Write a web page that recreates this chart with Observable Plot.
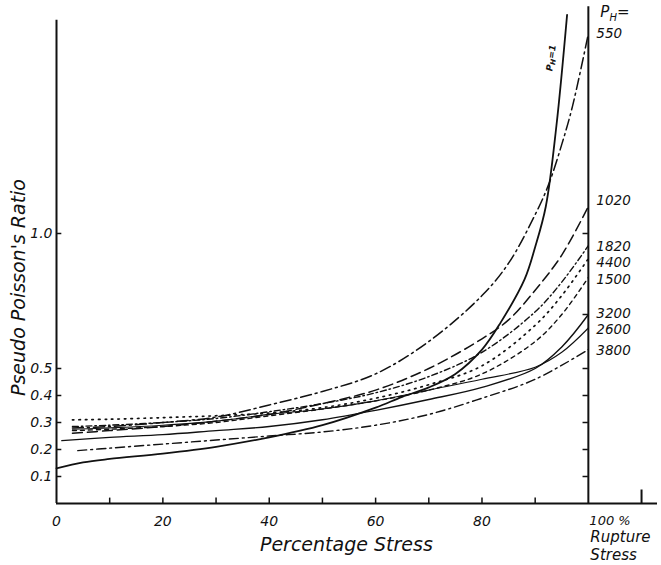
<!DOCTYPE html>
<html><head><meta charset="utf-8">
<script src="https://cdn.jsdelivr.net/npm/d3@7"></script>
<script src="https://cdn.jsdelivr.net/npm/@observablehq/plot@0.6"></script>
<style>body{margin:0;background:#fff}</style>
</head><body><div id="chart"></div>
<script>
// ---- data (percentage stress vs pseudo Poisson's ratio) ----
const ph1_x   = [0, 5, 10, 20, 30, 40, 50, 60, 65, 70, 75, 80, 83.5, 88, 90, 92, 94, 96];
const ph1_y   = [0.13, 0.152, 0.165, 0.185, 0.21, 0.245, 0.29, 0.355, 0.395, 0.43, 0.48, 0.57, 0.67, 0.83, 0.95, 1.10, 1.40, 1.81];
const p550_x  = [3, 10, 20, 30, 40, 50, 60, 70, 80, 85, 90, 92.5, 95, 97, 100];
const p550_y  = [0.28, 0.285, 0.30, 0.32, 0.365, 0.415, 0.48, 0.60, 0.77, 0.89, 1.07, 1.18, 1.33, 1.47, 1.74];
const p1020_x = [3, 10, 20, 30, 40, 50, 60, 70, 80, 85, 90, 95, 100];
const p1020_y = [0.26, 0.27, 0.285, 0.305, 0.33, 0.37, 0.42, 0.50, 0.61, 0.68, 0.79, 0.92, 1.10];
const p1820_x = [3, 10, 20, 30, 40, 50, 60, 70, 80, 90, 95, 100];
const p1820_y = [0.285, 0.29, 0.30, 0.315, 0.34, 0.37, 0.41, 0.47, 0.56, 0.71, 0.82, 0.955];
const p4400_x = [3, 10, 20, 30, 40, 50, 60, 70, 80, 90, 95, 100];
const p4400_y = [0.31, 0.312, 0.318, 0.325, 0.335, 0.355, 0.39, 0.44, 0.51, 0.66, 0.77, 0.907];
const p1500_x = [3, 10, 20, 30, 40, 50, 60, 70, 80, 90, 95, 100];
const p1500_y = [0.27, 0.275, 0.285, 0.30, 0.325, 0.35, 0.38, 0.42, 0.48, 0.60, 0.70, 0.837];
const p3200_x = [1, 10, 20, 30, 40, 50, 60, 70, 80, 90, 95, 100];
const p3200_y = [0.233, 0.245, 0.255, 0.27, 0.285, 0.31, 0.345, 0.385, 0.43, 0.50, 0.58, 0.70];
const p2600_x = [3, 10, 20, 30, 40, 50, 60, 70, 80, 90, 95, 100];
const p2600_y = [0.275, 0.28, 0.29, 0.305, 0.33, 0.35, 0.38, 0.42, 0.46, 0.505, 0.56, 0.65];
const p3800_x = [4, 10, 20, 30, 40, 50, 60, 70, 80, 90, 100];
const p3800_y = [0.196, 0.205, 0.22, 0.235, 0.25, 0.265, 0.29, 0.33, 0.39, 0.46, 0.57];

const seriesNames  = ["1", "550", "1020", "1820", "4400", "1500", "3200", "2600", "3800"];
const seriesX      = [ph1_x, p550_x, p1020_x, p1820_x, p4400_x, p1500_x, p3200_x, p2600_x, p3800_x];
const seriesY      = [ph1_y, p550_y, p1020_y, p1820_y, p4400_y, p1500_y, p3200_y, p2600_y, p3800_y];
const seriesDash   = ["none", "11,4,2,4", "10,5", "6,3,1.5,3", "1.5,5", "4,4", "none", "none", "9,4,2,4"];
const seriesWidth  = [1.8, 1.5, 1.5, 1.4, 1.7, 1.4, 1.4, 1.1, 1.4];

const labelText    = ["550", "1020", "1820", "4400", "1500", "3200", "2600", "3800"];
const labelRatio   = [1.74, 1.122, 0.952, 0.893, 0.83, 0.704, 0.644, 0.567];

const xTicks       = [10, 20, 30, 40, 50, 60, 70, 80, 90];
const xTickLabels  = [0, 20, 40, 60, 80];
const yTicks       = [0.1, 0.2, 0.3, 0.4, 0.5, 1.0];
const yRightTicks  = [0.1, 0.2, 0.3, 0.4, 0.5, 0.7, 1.0];

const F = "'DejaVu Sans', sans-serif";

const lineMarks = seriesNames.map((n, i) =>
  Plot.line(seriesX[i].map((x, j) => ({stress: x, ratio: seriesY[i][j]})), {
    x: "stress", y: "ratio", curve: "catmull-rom",
    stroke: "#111", strokeWidth: seriesWidth[i],
    strokeDasharray: seriesDash[i] === "none" ? null : seriesDash[i],
    strokeLinecap: "round"
  })
);

const chart = Plot.plot({
  width: 661, height: 565,
  marginLeft: 56, marginRight: 4, marginTop: 17, marginBottom: 62,
  x: {domain: [0, 113], axis: null},
  y: {domain: [0, 1.8], axis: null},
  style: {fontFamily: F, fontStyle: "italic", background: "#fff", color: "#111"},
  marks: [
    // frame lines
    Plot.ruleX([0], {y1: 0, y2: 1.79, strokeWidth: 2, stroke: "#111"}),
    Plot.ruleY([0], {x1: 0, x2: 113, strokeWidth: 2, stroke: "#111"}),
    Plot.ruleX([100], {y1: 0, y2: 1.84, strokeWidth: 2, stroke: "#111"}),
    Plot.ruleX([110], {y1: 0, y2: 0.05, strokeWidth: 2, stroke: "#111"}),
    // x ticks
    Plot.ruleX(xTicks, {y1: 0, y2: 0.02, strokeWidth: 1.5, stroke: "#111"}),
    // y ticks (left, pointing in) and right
    Plot.ruleY(yTicks, {x1: 0, x2: 1, strokeWidth: 1.5, stroke: "#111"}),
    Plot.ruleY(yRightTicks, {x1: 99, x2: 100, strokeWidth: 1.5, stroke: "#111"}),
    // tick labels
    Plot.axisY(yTicks, {tickSize: 0, tickPadding: 4, tickFormat: d3.format(".1f"), fontSize: 14, label: null}),
    Plot.text(xTickLabels, {x: d => d, y: 0, dy: 18, text: d => String(d), fontSize: 14}),
    Plot.text([100], {x: d => d, y: 0, dy: 17, dx: 1, text: () => "100 %", textAnchor: "start", fontSize: 13}),
    // axis titles
    Plot.text(["Percentage Stress"], {x: 54.5, y: 0, dy: 41, text: d => d, fontSize: 19}),
    Plot.text(["Rupture"], {x: 100, y: 0, dy: 34, dx: 2, text: d => d, textAnchor: "start", fontSize: 15}),
    Plot.text(["Stress"], {x: 100, y: 0, dy: 52, dx: 2, text: d => d, textAnchor: "start", fontSize: 15}),
    Plot.text(["Pseudo Poisson's Ratio"], {x: 0, y: 0.8, dx: -38, rotate: -90, text: d => d, fontSize: 19}),
    // curves
    ...lineMarks,
    // right-hand labels
    Plot.text(labelText, {x: 100, y: (d, i) => labelRatio[i], dx: 8, text: d => d, textAnchor: "start", fontSize: 13.5}),
    Plot.text(["PH="], {x: 100, y: 1.82, dx: 12, text: d => d, textAnchor: "start", fontSize: 15}),
    Plot.text(["PH=1"], {x: 93.0, y: 1.65, text: d => d, rotate: -82, fontSize: 9, fontWeight: "bold"})
  ]
});

// subscript H for the P_H labels
d3.select(chart).selectAll("text").each(function() {
  const t = d3.select(this);
  const s = t.text();
  if (s === "PH=" || s === "PH=1") {
    const small = s === "PH=1";
    t.text(null);
    t.append("tspan").text("P");
    t.append("tspan").attr("dy", small ? 2 : 4).attr("font-size", small ? 7 : 10).text("H");
    t.append("tspan").attr("dy", small ? -2 : -4).text(small ? "=1" : "=");
  }
});

document.getElementById("chart").appendChild(chart);
</script>
</body></html>
